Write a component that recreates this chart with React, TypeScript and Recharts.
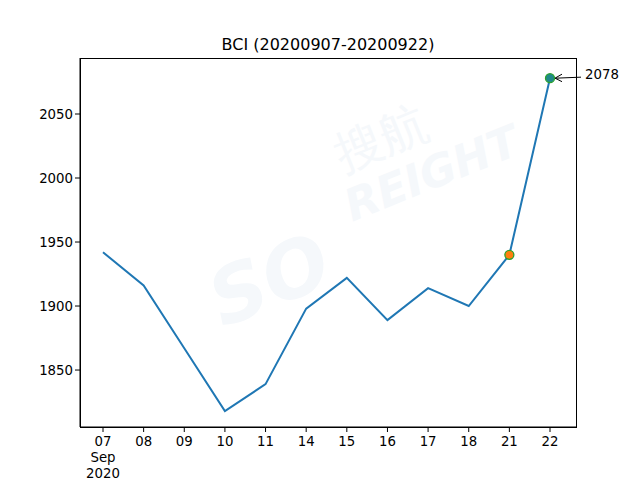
import React from 'react';
import {LineChart, Line, XAxis, YAxis} from 'recharts';

const days = ['07', '08', '09', '10', '11', '14', '15', '16', '17', '18', '21', '22'];
const bci = [1942, 1916, 1867, 1818, 1839, 1898, 1922, 1889, 1914, 1900, 1940, 2078];
const yTicks = [1850, 1900, 1950, 2000, 2050];

const data = days.map((d, i) => ({day: d, bci: bci[i]}));

const font = 'DejaVu Sans, sans-serif';
const wm = '#f5f8fb';

const XTick = (props: any) => {
	const {x, y, payload, index} = props;
	return (
		<g>
			<line x1={x} x2={x} y1={y - 8} y2={y - 3} stroke="#000" strokeWidth={1}/>
			<text x={x} y={y + 11} textAnchor="middle" fontSize={13.3} fontFamily={font} fill="#000">{payload.value}</text>
			{index === 0 && (
				<>
					<text x={x} y={y + 27} textAnchor="middle" fontSize={13.3} fontFamily={font} fill="#000">Sep</text>
					<text x={x} y={y + 43} textAnchor="middle" fontSize={13.3} fontFamily={font} fill="#000">2020</text>
				</>
			)}
		</g>
	);
};

const Marker = (props: any) => {
	const {cx, cy, index, value} = props;
	if (index === days.length - 2) {
		return <circle key={index} cx={cx} cy={cy} r={4.5} fill="#ff7f0e" stroke="#2ca02c" strokeWidth={1.3}/>;
	}
	if (index === days.length - 1) {
		return (
			<g key={index}>
				<circle cx={cx} cy={cy} r={4.5} fill="#1f8a8a" stroke="#2ca02c" strokeWidth={1.3}/>
				<line x1={cx + 31} y1={cy - 1} x2={cx + 6} y2={cy} stroke="#000" strokeWidth={1}/>
				<path d={`M${cx + 12},${cy - 4} L${cx + 5},${cy} L${cx + 12},${cy + 3.5}`} fill="none" stroke="#000" strokeWidth={1}/>
				<text x={cx + 35} y={cy + 1} fontSize={13.3} fontFamily={font} fill="#000">{value}</text>
			</g>
		);
	}
	return <g key={index}/>;
};

const App = () => {
	return (
		<div style={{position: 'absolute', left: 0, top: 0, width: 640, height: 480, background: '#fff'}}>
			<svg width={640} height={480} style={{position: 'absolute', left: 0, top: 0}}>
				<g transform="rotate(-22 330 220)" fontFamily={font} fontWeight="bold" fontStyle="italic">
					<text x={190} y={280} fontSize={78} fill={wm}>SO</text>
					<text x={350} y={230} fontSize={44} fill={wm}>REIGHT</text>
					<text x={360} y={180} fontSize={48} fontWeight="normal" fontStyle="normal" fill={wm}>搜航</text>
				</g>
				<rect x={80.5} y={58.5} width={496} height={369} fill="none" stroke="#000" strokeWidth={1}/>
			</svg>
			<div style={{position: 'absolute', left: 0, top: 0}}>
				<LineChart width={640} height={480} data={data} margin={{top: 58, right: 64, bottom: 0, left: 30}}>
					<text x={328} y={50} textAnchor="middle" fontSize={16} fontFamily={font} fill="#000">BCI (20200907-20200922)</text>
					<XAxis dataKey="day" height={53} padding={{left: 23, right: 26}} tickLine={false} tick={<XTick/>}
						axisLine={{stroke: '#000'}} interval={0}/>
					<YAxis domain={[1805.5, 2093.75]} ticks={yTicks} width={50} tickSize={5}
						tick={{fontSize: 13.3, fontFamily: font, fill: '#000'}} tickLine={{stroke: '#000'}} axisLine={{stroke: '#000'}}/>
					<Line dataKey="bci" stroke="#1f77b4" strokeWidth={2} dot={<Marker/>} activeDot={false} isAnimationActive={false}/>
				</LineChart>
			</div>
		</div>
	);
};

export default App;
